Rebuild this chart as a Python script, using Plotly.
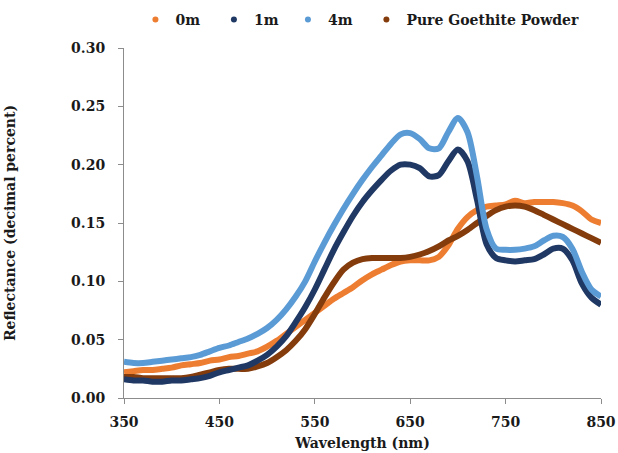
import plotly.graph_objects as go

wavelength = list(range(350, 851, 10))

r_0m = [.022, .023, .024, .024, .025, .026, .028, .029, .030, .032, .033, .035, .036, .038, .040,
        .044, .049, .055, .061, .067, .073, .079, .085, .090, .095, .101, .106, .110, .114, .117,
        .118, .118, .118, .121, .131, .145, .155, .161, .164, .165, .166, .169, .167, .168, .168,
        .168, .167, .165, .160, .153, .150]

r_1m = [.016, .015, .015, .014, .014, .015, .015, .016, .017, .019, .022, .024, .026, .028, .032,
        .037, .044, .053, .065, .078, .093, .110, .127, .142, .156, .168, .178, .187, .195, .200,
        .200, .197, .190, .191, .203, .213, .203, .170, .132, .120, .118, .117, .118, .119, .123,
        .128, .128, .118, .098, .086, .080]

r_4m = [.031, .030, .030, .031, .032, .033, .034, .035, .037, .040, .043, .045, .048, .051, .055,
        .060, .067, .076, .087, .100, .117, .133, .148, .162, .175, .187, .198, .208, .218, .226,
        .227, .222, .214, .214, .228, .240, .228, .190, .145, .128, .127, .127, .128, .130, .135,
        .139, .138, .128, .108, .093, .087]

r_goethite = [.018, .018, .017, .017, .017, .017, .017, .018, .020, .022, .024, .025, .025, .025, .027,
              .030, .035, .041, .049, .059, .072, .086, .099, .110, .116, .119, .120, .120, .120, .120,
              .121, .123, .126, .130, .135, .139, .144, .150, .156, .161, .164, .165, .164, .161, .157,
              .153, .149, .145, .141, .137, .133]

series_names = ["0m", "1m", "4m", "Pure Goethite Powder"]
series_values = [r_0m, r_1m, r_4m, r_goethite]
colors = ["#ED7D31", "#1F3864", "#5B9BD5", "#843C0C"]
legend_pad = ["&nbsp;&nbsp;", "&nbsp;", "&nbsp;&nbsp;", ""]

x_ticks = [350, 450, 550, 650, 750, 850]
y_ticks = [0.00, 0.05, 0.10, 0.15, 0.20, 0.25, 0.30]

FONT = "DejaVu Serif"
FS = 14
TXT = "#1a1a1a"

fig = go.Figure()
draw_order = [0, 3, 1, 2]
for i in draw_order:
    fig.add_trace(go.Scatter(x=wavelength, y=series_values[i], mode="lines",
                             line=dict(color=colors[i], width=6, shape="spline", smoothing=0.8),
                             showlegend=False, hoverinfo="skip"))
for name, c, pad in zip(series_names, colors, legend_pad):
    fig.add_trace(go.Scatter(x=[None], y=[None], mode="markers", name=f"<b>{name}</b>{pad}",
                             marker=dict(color=c, size=6)))

fig.update_layout(
    width=618, height=453,
    margin=dict(l=124, r=17, t=48, b=55, autoexpand=False),
    paper_bgcolor="white", plot_bgcolor="white",
    font=dict(family=FONT, size=FS, color=TXT),
    legend=dict(orientation="h", x=0.024, xanchor="left", yref="paper", y=1.08, yanchor="middle",
                font=dict(family=FONT, size=FS, color=TXT),
                itemwidth=30, tracegroupgap=0),
    xaxis=dict(range=[350, 850], tickvals=x_ticks, ticktext=[f"<b>{v}</b>" for v in x_ticks],
               showgrid=False, zeroline=False, showline=True, linecolor="#8c8c8c", linewidth=1,
               ticks="outside", ticklen=5, tickcolor="#8c8c8c", automargin=False,
               ticklabelstandoff=6, ticklabeloverflow="allow",
               tickfont=dict(family=FONT, size=FS, color=TXT),
               title=dict(text="<b>Wavelength (nm)</b>", standoff=9,
                          font=dict(family=FONT, size=FS, color=TXT))),
    yaxis=dict(range=[0, 0.30], tickvals=y_ticks, ticktext=[f"<b>{v:.2f}</b>" for v in y_ticks],
               showgrid=False, zeroline=False, showline=True, linecolor="#8c8c8c", linewidth=1,
               ticks="outside", ticklen=5, tickcolor="#8c8c8c", automargin=False,
               ticklabelstandoff=10,
               tickfont=dict(family=FONT, size=FS, color=TXT),
               title=dict(text="<b>Reflectance (decimal percent)</b>", standoff=52,
                          font=dict(family=FONT, size=FS, color=TXT))),
)

fig.write_html("out.html", config={"displayModeBar": False},
               post_script="document.body.style.margin='0';document.body.style.overflow='hidden';")
